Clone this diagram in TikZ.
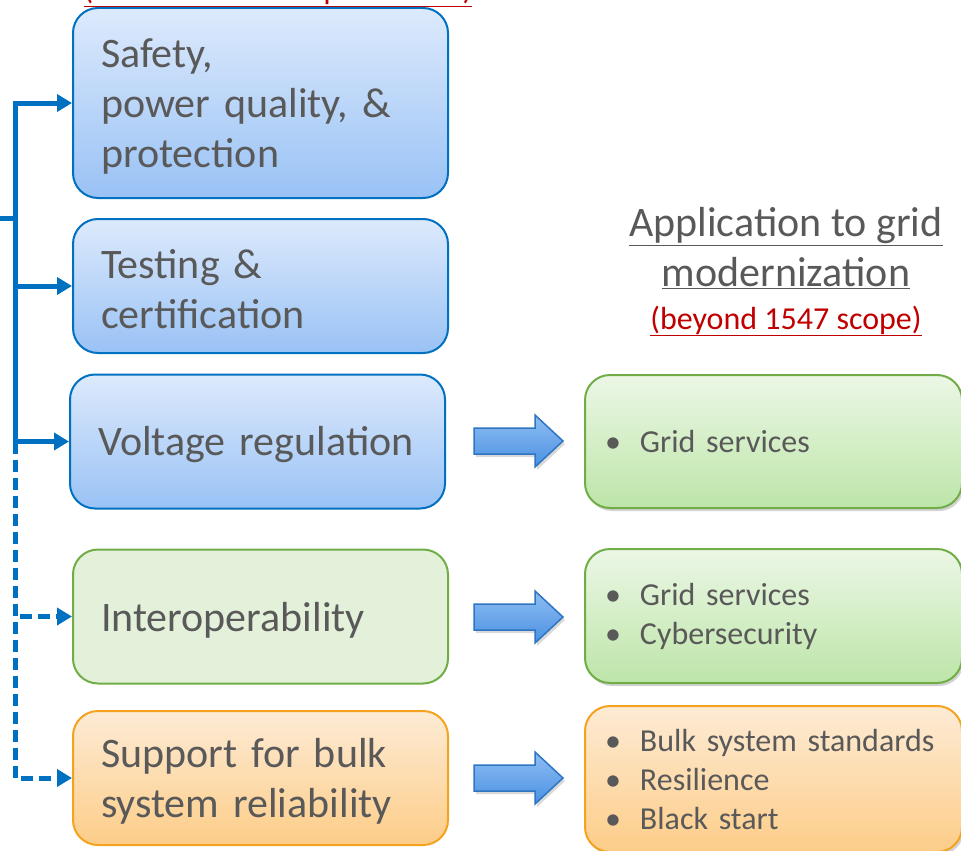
\documentclass[tikz,border=0pt]{standalone}
\usepackage{fontspec}
\setmainfont{Carlito}
\usetikzlibrary{arrows.meta,shadows}

\definecolor{linkblue}{HTML}{0070C0}
\definecolor{txtgray}{HTML}{595959}
\definecolor{darkred}{HTML}{C00000}
\definecolor{blueTop}{HTML}{DDEAFC}
\definecolor{blueBot}{HTML}{99C2F5}
\definecolor{greenFlat}{HTML}{E3F1DA}
\definecolor{greenEdge}{HTML}{70AD47}
\definecolor{greenTop}{HTML}{ECF7E6}
\definecolor{greenBot}{HTML}{BDE5A8}
\definecolor{orangeTop}{HTML}{FDEBD5}
\definecolor{orangeBot}{HTML}{FDCD88}
\definecolor{orangeEdge}{HTML}{F5A31F}
\definecolor{arrowTop}{HTML}{8FBEF3}
\definecolor{arrowBot}{HTML}{4A90E2}
\definecolor{arrowEdge}{HTML}{2E75C2}

\newcommand{\bul}{\makebox[35pt][l]{\textbullet}}

\begin{document}
\begin{tikzpicture}[x=1pt,y=-1pt,
    reqbox/.style={rectangle, rounded corners=25pt, line width=2pt, inner xsep=28pt, inner ysep=0pt,
      text width=319pt, align=left, minimum height=134pt, text=txtgray, font=\fontsize{42}{50}\selectfont,
      execute at end node=\vspace{-7pt}},
    bluebox/.style={reqbox, draw=linkblue, top color=blueTop, bottom color=blueBot},
    greenbox/.style={reqbox, draw=greenEdge, fill=greenFlat},
    orangebox/.style={reqbox, draw=orangeEdge, top color=orangeTop, bottom color=orangeBot},
    appbox/.style={rectangle, rounded corners=25pt, line width=2pt, inner xsep=20pt, inner ysep=0pt,
      text width=337pt, align=left, text=txtgray, font=\fontsize{32}{39}\selectfont,
      drop shadow={shadow xshift=2pt, shadow yshift=-3pt, opacity=0.35}},
    appgreen/.style={appbox, draw=greenEdge, top color=greenTop, bottom color=greenBot},
    apporange/.style={appbox, draw=orangeEdge, top color=orangeTop, bottom color=orangeBot},
    conn/.style={linkblue, line width=5pt, -{Triangle[length=15pt,width=17pt]}},
    bigarrow/.style={draw=arrowEdge, line width=1.5pt, top color=arrowTop, bottom color=arrowBot,
      drop shadow={shadow xshift=2pt, shadow yshift=-3pt, opacity=0.3}}
  ]
  \path[use as bounding box, clip] (0,0) rectangle (961,851);

  % heading texts
  \node[anchor=base, text=darkred, font=\fontsize{32}{39}\selectfont] (reqtitle) at (278,0)
    {\underline{(IEEE Std. 1547 requirements)}};
  \node[align=center, text=txtgray, font=\fontsize{42}{50}\selectfont] (apptitle) at (786,248)
    {\underline{Application to grid}\\\underline{modernization}};
  \node[text=darkred, font=\fontsize{32}{39}\selectfont] (appnote) at (786,321)
    {\underline{(beyond 1547 scope)}};

  % requirement boxes
  \node[bluebox, minimum height=190pt] (safety) at (260.5,103) {Safety,\\power quality, \&\\protection};
  \node[bluebox] (testing) at (260.5,286) {Testing \&\\certification};
  \node[bluebox] (voltage) at (257.5,441.5) {Voltage regulation};
  \node[greenbox] (interop) at (260.5,616.5) {Interoperability};
  \node[orangebox] (bulk) at (260.5,778) {Support for bulk\\system reliability};

  % application boxes
  \node[appgreen, minimum height=133pt] (gridA) at (773.5,441.5) {\bul Grid services};
  \node[appgreen, minimum height=134pt] (gridB) at (773.5,616) {\bul Grid services\\\bul Cybersecurity};
  \node[apporange, minimum height=146pt] (bulkapp) at (773.5,779)
    {\bul Bulk system standards\\\bul Resilience\\\bul Black start};

  % block arrows
  \foreach \yy in {441,617,778}
    \path[bigarrow] (474,\yy-13) -- (535,\yy-13) -- (535,\yy-26) -- (563,\yy) -- (535,\yy+26)
      -- (535,\yy+13) -- (474,\yy+13) -- cycle;

  % connectors
  \coordinate (feed) at (0,218);
  \coordinate (bus) at (15,218);
  \coordinate (split) at (15,441.5);
  \draw[linkblue, line width=5pt] (feed) -- (bus);
  \draw[conn] (bus) |- (safety.west);
  \draw[conn] (bus) |- (testing.west);
  \draw[conn] (bus) |- (voltage.west);
  \draw[conn, dash pattern=on 12pt off 6pt] (split) |- (interop.west);
  \draw[conn, dash pattern=on 12pt off 6pt] (split) |- (bulk.west);
\end{tikzpicture}
\end{document}
